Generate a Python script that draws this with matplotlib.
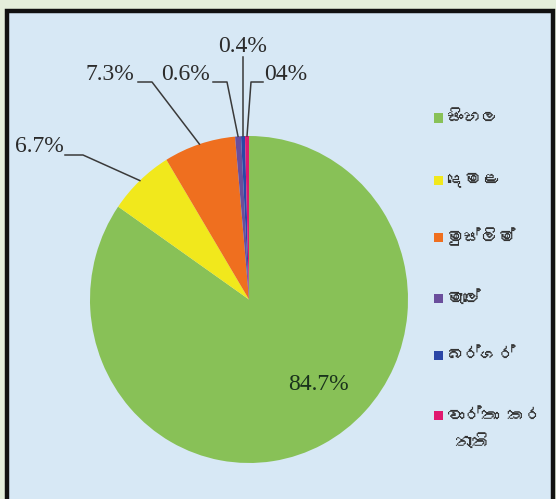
import matplotlib
matplotlib.use("Agg")
import matplotlib.pyplot as plt
import numpy as np
from matplotlib import font_manager, ft2font
from matplotlib.patches import Rectangle

# data
groups = ["සිංහල", "දෙමළ", "මුස්ලිම්", "මැලේ", "බර්ගර්", "වාර්තා කර\nනැති"]
shares = [84.7, 6.7, 7.3, 0.6, 0.4, 0.4]
share_labels = ["84.7%", "6.7%", "7.3%", "0.6%", "0.4%", "04%"]
colors = ["#88c157", "#f1e81c", "#ef6f1f", "#6a4e9c", "#2b46a6", "#e0186f"]

W, H = 556, 499
fig = plt.figure(figsize=(W / 100, H / 100), dpi=100)
fig.patch.set_facecolor("#e4eedb")


def fx(x):
    return x / W


def fy(y):
    return (H - y) / H


# light blue panel with black frame
fig.patches.append(Rectangle((fx(7), fy(505)), fx(546), (505 - 11) / H,
                             transform=fig.transFigure, facecolor="#d7e8f5",
                             edgecolor="#111111", linewidth=3.2, zorder=-5))


def sinhala_font():
    for f in font_manager.fontManager.ttflist:
        try:
            if 0x0DC3 in ft2font.FT2Font(f.fname).get_charmap():
                return f.name
        except Exception:
            pass
    return None


si = sinhala_font()
leg_family = [si, "DejaVu Sans"] if si else ["DejaVu Sans"]

# pie: center (249, 299.5) px, radii 159 x 163.5 px
cx, cy, rx, ry = 249, 299.5, 159, 163.5
ax = fig.add_axes([fx(cx - rx), fy(cy + ry), 2 * rx / W, 2 * ry / H])
ax.set_zorder(2)
wedges, _ = ax.pie(shares, colors=colors, startangle=90, counterclock=False,
                   wedgeprops=dict(linewidth=0))
ax.set_xlim(-1, 1)
ax.set_ylim(-1, 1)
ax.set_aspect("auto")
ax.axis("off")


def to_data(x, y):
    return (x - cx) / rx, (cy - y) / ry


serif = "Liberation Serif"
txt_col = "#2b2b2b"

# inside label for the big slice
tx, ty = to_data(318, 385)
ax.text(tx, ty, share_labels[0], ha="center", va="center", fontsize=17,
        family=serif, color="#1a331c")

# outside labels with leader lines
label_pos = {1: (39, 147), 2: (110, 74), 3: (185, 74), 4: (243, 47), 5: (286, 74)}
line_start = {1: (65, 155), 2: (138, 82), 3: (213, 82), 4: (None, 57), 5: (263, 82)}
elbow = {1: (83, 155), 2: (152, 82), 3: (227, 82), 4: None, 5: (251, 82)}

for i, w in enumerate(wedges):
    if i == 0:
        continue
    th = np.deg2rad((w.theta1 + w.theta2) / 2)
    ex, ey = np.cos(th), np.sin(th)
    lx, ly = to_data(*label_pos[i])
    ax.text(lx, ly, share_labels[i], ha="center", va="center", fontsize=17,
            family=serif, color=txt_col)
    sx, sy = line_start[i]
    if sx is None:
        pts = [(ex, to_data(0, sy)[1]), (ex, ey)]
    else:
        pts = [to_data(sx, sy), to_data(*elbow[i]), (ex, ey)]
    xs, ys = zip(*pts)
    ax.plot(xs, ys, color="#3a3a3a", linewidth=1.1, clip_on=False)

# legend
leg_y = [118, 180, 237, 298, 355, 415]
for lab, col, y in zip(groups, colors, leg_y):
    fig.patches.append(Rectangle((fx(434), fy(y + 4.5)), 9 / W, 9 / H,
                                 transform=fig.transFigure, facecolor=col,
                                 edgecolor="none"))
    fig.text(fx(447), fy(y), lab.split("\n")[0], ha="left", va="center",
             fontsize=12.5, family=leg_family, color="#333333")
    if "\n" in lab:
        fig.text(fx(455), fy(y + 27), lab.split("\n")[1], ha="left",
                 va="center", fontsize=12.5, family=leg_family, color="#333333")

fig.savefig("out.png", dpi=100, facecolor=fig.get_facecolor())
